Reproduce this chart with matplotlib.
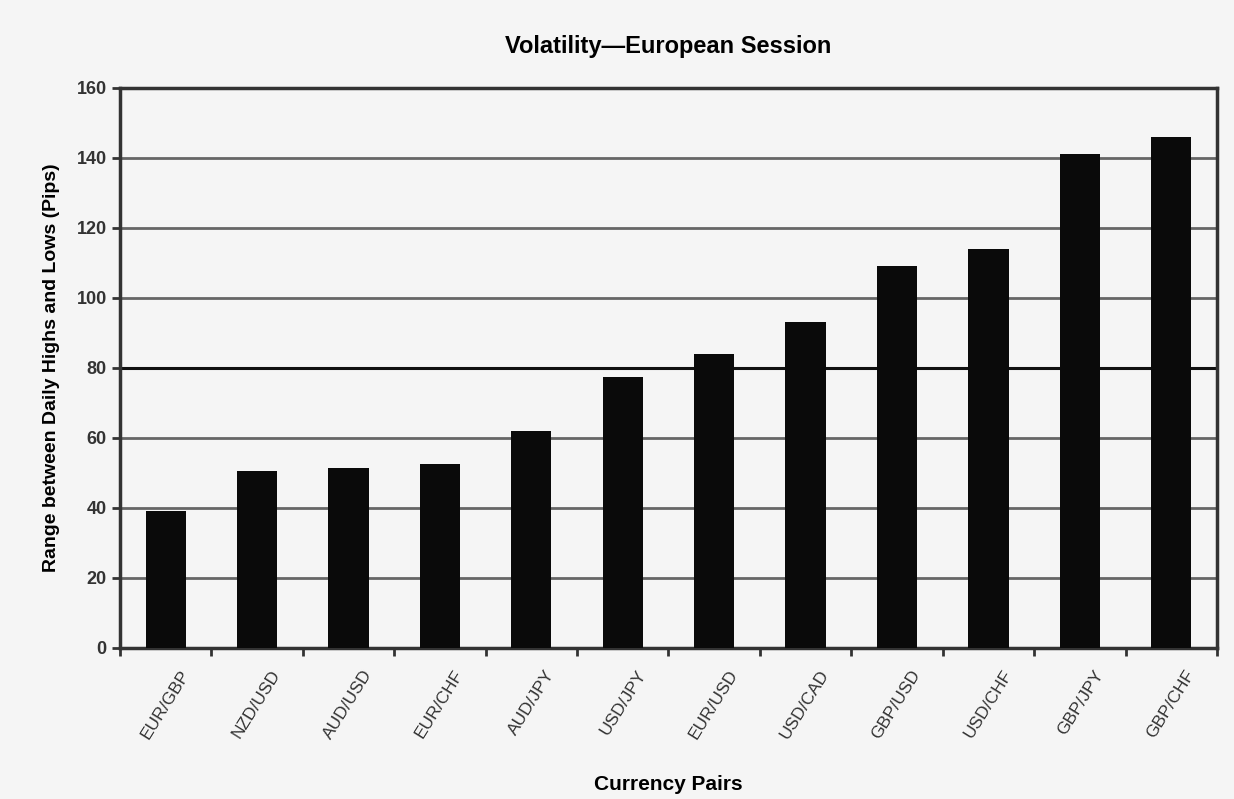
import matplotlib
matplotlib.use("Agg")
import matplotlib.pyplot as plt
import numpy as np

pairs = ["EUR/GBP", "NZD/USD", "AUD/USD", "EUR/CHF", "AUD/JPY", "USD/JPY",
         "EUR/USD", "USD/CAD", "GBP/USD", "USD/CHF", "GBP/JPY", "GBP/CHF"]
pips = [39, 50.5, 51.5, 52.5, 62, 77.5, 84, 93, 109, 114, 141, 146]
yticks = [0, 20, 40, 60, 80, 100, 120, 140, 160]

plt.rcParams['font.family'] = ['Liberation Sans Narrow', 'Liberation Sans', 'DejaVu Sans']

fig = plt.figure(figsize=(12.34, 7.99), dpi=100)
fig.patch.set_facecolor('#f5f5f5')
ax = fig.add_axes([0.0972, 0.189, 0.889, 0.701])
ax.set_facecolor('#f5f5f5')

x = np.arange(len(pairs))
ax.bar(x, pips, width=0.44, color='#0a0a0a', zorder=3)

ax.set_ylim(0, 160)
ax.set_xlim(-0.5, len(pairs) - 0.5)
ax.set_yticks(yticks)
ax.set_yticklabels([str(v) for v in yticks], fontsize=13, fontweight='bold', color='#333333')
for v in yticks[1:]:
    if v == 80:
        ax.axhline(v, color='#111111', lw=2.2, zorder=1)
    else:
        ax.axhline(v, color='#666666', lw=2, zorder=1)

ax.set_xticks(x + 0.15)
ax.set_xticklabels(pairs, rotation=58, ha='right', rotation_mode='anchor',
                   fontsize=12.5, color='#333333')
ax.tick_params(axis='x', length=0, pad=14)
# ticks between categories
ax.set_xticks(np.arange(len(pairs) + 1) - 0.5, minor=True)
ax.tick_params(axis='x', which='minor', length=6, width=2, color='#333333')
ax.tick_params(axis='y', length=6, width=2, color='#333333')

for s in ax.spines.values():
    s.set_linewidth(2.5)
    s.set_color('#333333')

ax.set_title("Volatility\u2014European Session", fontsize=17, fontweight='bold', pad=25)
ax.set_ylabel("Range between Daily Highs and Lows (Pips)", fontsize=14, fontweight='bold', labelpad=12)
fig.text(668 / 1234, 1 - 784 / 799, "Currency Pairs", fontsize=15, fontweight='bold',
         ha='center', va='center')

fig.savefig("out.png", dpi=100, facecolor=fig.get_facecolor())
